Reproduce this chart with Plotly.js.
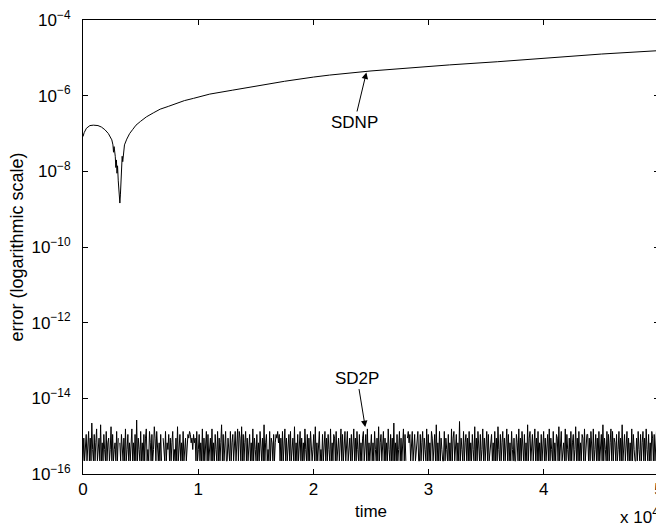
<!DOCTYPE html>
<html>
<head>
<meta charset="utf-8">
<script src="https://cdn.plot.ly/plotly-3.0.1.min.js"></script>
<style>
  html, body { margin: 0; padding: 0; overflow: hidden; background: #fff; }
  #chart { width: 670px; height: 525px; }
</style>
</head>
<body>
<div id="chart"></div>
<script>
// ---- Data ----
// SDNP error curve: time (x 10^4) and error
var sdnpTime = [0.00, 0.01, 0.03, 0.06, 0.09, 0.13, 0.16, 0.19, 0.22, 0.24, 0.25, 0.26, 0.265, 0.27, 0.28, 0.285, 0.29, 0.295, 0.30, 0.306, 0.31, 0.32, 0.325, 0.33, 0.335, 0.34, 0.345, 0.35, 0.36, 0.38, 0.405, 0.43, 0.46, 0.50, 0.55, 0.61, 0.67, 0.74, 0.81, 0.88, 0.96, 1.10, 1.30, 1.50, 1.75, 2.00, 2.14, 2.50, 2.80, 3.18, 3.60, 4.05, 4.50, 5.00];
var sdnpError = [8.3e-8, 1.05e-7, 1.38e-7, 1.62e-7, 1.66e-7, 1.62e-7, 1.48e-7, 1.26e-7, 1.0e-7, 7.9e-8, 6.8e-8, 5.0e-8, 3.2e-8, 4.5e-8, 2.5e-8, 1.26e-8, 2.0e-8, 8.9e-9, 1.4e-8, 5.6e-9, 4.0e-9, 1.45e-9, 2.5e-9, 7.9e-9, 1.4e-8, 2.5e-8, 1.8e-8, 3.2e-8, 5.0e-8, 7.1e-8, 1.0e-7, 1.26e-7, 1.66e-7, 2.1e-7, 2.75e-7, 3.5e-7, 4.4e-7, 5.2e-7, 6.3e-7, 7.4e-7, 8.5e-7, 1.1e-6, 1.4e-6, 1.8e-6, 2.4e-6, 3.1e-6, 3.5e-6, 4.5e-6, 5.4e-6, 6.5e-6, 7.9e-6, 1.02e-5, 1.26e-5, 1.55e-5];

// SD2P error: multiples of machine epsilon (0 = exact, not drawn on log scale)
var eps = 2.220446e-16;
var sd2pUlps = [
  1,4,1,3,5,1,2,6,1,4,1,10,2,1,5,1,3,7,1,2,4,1,9,1,3,1,5,2,1,6,
  1,3,4,1,2,8,1,5,1,2,3,1,6,1,4,0,3,1,5,2,1,4,1,7,1,2,5,1,3,1,
  2,7,1,3,1,5,1,12,1,4,2,1,6,1,3,1,5,1,4,7,1,2,1,6,3,1,5,1,2,8,
  4,1,6,2,1,3,1,5,1,0,4,2,1,6,1,3,2,5,1,4,1,3,6,1,2,1,4,1,8,1,
  2,5,1,3,1,6,1,2,4,1,3,5,4,6,5,3,4,2,5,3,4,1,6,1,2,5,1,3,1,7,
  1,4,1,3,6,1,5,1,2,4,1,7,1,3,1,5,2,1,6,1,4,1,3,9,1,5,1,2,6,1,
  1,4,2,1,6,1,3,5,1,4,6,1,5,7,1,6,4,1,8,1,5,1,3,6,1,4,1,2,5,1,
  3,1,7,1,4,2,1,5,1,3,1,6,2,1,4,1,9,1,3,5,1,2,1,6,1,4,3,1,5,1,
  3,5,4,6,3,5,1,4,1,6,1,2,7,1,4,1,3,5,1,6,1,2,4,1,8,1,3,1,5,1,
  2,6,1,4,1,3,1,7,2,1,5,1,4,1,6,3,1,2,5,1,8,1,3,1,4,6,1,2,1,5,
  1,3,6,1,4,1,5,2,1,7,1,3,1,5,4,1,6,1,2,4,1,3,7,1,5,1,2,6,1,4,
  6,1,2,4,1,5,1,3,7,1,4,1,6,2,1,5,1,3,1,4,6,1,2,5,1,7,1,3,1,4,
  5,1,3,1,6,2,1,4,1,8,1,3,5,1,2,6,1,4,1,3,1,7,2,1,5,1,4,1,10,1,
  3,1,5,1,2,6,1,4,1,3,7,1,5,1,0,4,6,3,5,1,4,6,1,3,5,1,2,4,6,1,
  1,5,1,3,6,1,4,2,1,7,1,5,1,3,1,6,4,1,2,5,1,9,1,3,1,6,1,4,2,1,
  1,6,1,4,2,1,5,1,3,1,7,1,4,6,1,2,5,1,3,1,11,1,4,2,1,6,1,3,5,1,
  4,1,6,1,3,1,5,2,1,8,1,4,1,6,3,1,5,1,2,7,1,4,1,3,6,1,5,1,2,4,
  5,1,3,1,6,1,4,1,8,2,1,5,1,3,6,1,4,1,2,7,1,5,1,3,1,6,2,1,4,1,
  1,5,3,1,7,1,4,1,6,2,1,5,1,3,1,9,1,4,6,1,2,5,1,3,7,1,4,1,6,1,
  3,1,5,1,2,6,1,4,1,3,5,1,7,1,4,2,1,6,1,3,1,5,4,1,8,1,3,6,1,2,
  3,1,7,1,5,2,1,4,1,6,1,3,5,1,2,8,1,4,1,6,1,3,1,5,4,1,7,1,2,5,
  5,1,4,1,6,3,1,7,1,2,5,1,4,1,6,1,3,5,1,9,1,4,2,1,6,1,5,1,3,7,
  1,6,1,4,3,1,5,1,2,6,1,4,1,9,1,3,5,1,2,6,1,4,1,3,1,7,1,5,2,1,
  1,4,1,6,2,1,5,1,3,6,1,4,1,7,2,1,5,1,3,1,6,4,1,5,1,2,7,1,4,1
];
var timeEnd = 5; // x 10^4

// Axis ticks
var xTickVals = [0, 1, 2, 3, 4, 5];
var xTickText = ['0', '1', '2', '3', '4', '5'];
var yTickVals = [1e-16, 1e-14, 1e-12, 1e-10, 1e-8, 1e-6, 1e-4];
var yTickText = ['10<sup>\u221216</sup>', '10<sup>\u221214</sup>', '10<sup>\u221212</sup>', '10<sup>\u221210</sup>', '10<sup>\u22128</sup>', '10<sup>\u22126</sup>', '10<sup>\u22124</sup>'];

// ---- Build SD2P series (uniform time sampling) ----
var sd2pTime = [], sd2pError = [];
for (var i = 0; i < sd2pUlps.length; i++) {
  sd2pTime.push(i * timeEnd / (sd2pUlps.length - 1));
  sd2pError.push(sd2pUlps[i] > 0 ? sd2pUlps[i] * eps : null);
}

var FONT = 'Liberation Sans, Arial, Helvetica, sans-serif';

var traces = [
  { x: sdnpTime, y: sdnpError, type: 'scatter', mode: 'lines', name: 'SDNP',
    line: { color: '#000', width: 1 }, hoverinfo: 'skip' },
  { x: sd2pTime, y: sd2pError, type: 'scatter', mode: 'lines', name: 'SD2P',
    line: { color: '#000', width: 1 }, connectgaps: false, hoverinfo: 'skip' }
];

var layout = {
  width: 670, height: 525,
  margin: { l: 83, r: 11, t: 20, b: 51, pad: 0 },
  paper_bgcolor: '#fff', plot_bgcolor: '#fff',
  showlegend: false,
  font: { family: FONT, size: 17, color: '#000' },
  xaxis: {
    range: [0, 5], tickmode: 'array', tickvals: xTickVals, ticktext: xTickText,
    ticks: 'inside', ticklen: 5, tickwidth: 1, tickcolor: '#000',
    showline: true, linecolor: '#000', linewidth: 1, mirror: 'ticks',
    showgrid: false, zeroline: false, automargin: false,
    tickfont: { family: FONT, size: 17, color: '#000' },
    ticklabelstandoff: 0,
    title: { text: 'time', font: { family: FONT, size: 17, color: '#000' }, standoff: 6 }
  },
  yaxis: {
    type: 'log', range: [-16, -4], tickmode: 'array', tickvals: yTickVals, ticktext: yTickText,
    ticks: 'inside', ticklen: 5, tickwidth: 1, tickcolor: '#000',
    showline: true, linecolor: '#000', linewidth: 1, mirror: 'ticks',
    showgrid: false, zeroline: false, automargin: false,
    tickfont: { family: FONT, size: 17, color: '#000' },
    ticklabelstandoff: 8,
    title: { text: 'error (logarithmic scale)', font: { family: FONT, size: 18, color: '#000' }, standoff: 3 }
  },
  annotations: [
    { x: 2.46, y: Math.log10(4.1e-6), xref: 'x', yref: 'y', text: 'SDNP',
      showarrow: true, ax: -12, ay: 50, arrowhead: 2, arrowsize: 1.3, arrowwidth: 1, arrowcolor: '#000',
      font: { family: FONT, size: 17, color: '#000' } },
    { x: 2.45, y: Math.log10(1.74e-15), xref: 'x', yref: 'y', text: 'SD2P',
      showarrow: true, ax: -8, ay: -49, arrowhead: 2, arrowsize: 1.3, arrowwidth: 1, arrowcolor: '#000',
      font: { family: FONT, size: 17, color: '#000' } },
    { x: 0.929, y: -0.0925, xref: 'paper', yref: 'paper', xanchor: 'left', yanchor: 'middle',
      text: 'x 10<sup>4</sup>', showarrow: false,
      font: { family: FONT, size: 17, color: '#000' } }
  ]
};

Plotly.newPlot('chart', traces, layout, { displayModeBar: false, staticPlot: true });
</script>
</body>
</html>
